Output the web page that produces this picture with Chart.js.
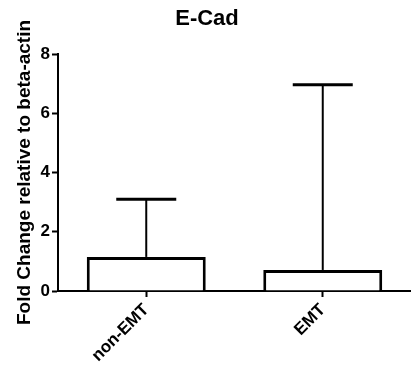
<!DOCTYPE html>
<html>
<head>
<meta charset="utf-8">
<script src="https://cdn.jsdelivr.net/npm/chart.js@4.4.1/dist/chart.umd.min.js"></script>
<style>
  html, body { margin: 0; padding: 0; background: #fff; }
  #wrap { width: 411px; height: 375px; }
</style>
</head>
<body>
<div id="wrap"><canvas id="ecadChart" width="411" height="375"></canvas></div>
<script>
// E-Cad 발현량 (beta-actin 대비 fold change)
const groups = ['non-EMT', 'EMT'];
const meanFold = [1.15, 0.71];
const sdFold = [1.95, 6.25];      // 위쪽 error bar 길이 (SD)
const yTicks = [0, 2, 4, 6, 8];

const FONT = "'Liberation Sans', Arial, sans-serif";

// 막대 위에 한쪽 방향 error bar 그리기
const errorBarPlugin = {
  id: 'errorBars',
  afterDatasetsDraw(chart) {
    const ctx = chart.ctx;
    const yScale = chart.scales.y;
    const meta = chart.getDatasetMeta(0);
    ctx.save();
    ctx.strokeStyle = '#000';
    meta.data.forEach((bar, i) => {
      const top = yScale.getPixelForValue(meanFold[i] + sdFold[i]);
      ctx.lineWidth = 2;
      ctx.beginPath();
      ctx.moveTo(bar.x, bar.y);
      ctx.lineTo(bar.x, top);
      ctx.stroke();
      ctx.lineWidth = 3;
      ctx.beginPath();
      ctx.moveTo(bar.x - 30, top);
      ctx.lineTo(bar.x + 30, top);
      ctx.stroke();
    });
    ctx.restore();
  }
};

new Chart(document.getElementById('ecadChart'), {
  type: 'bar',
  data: {
    labels: groups,
    datasets: [{
      data: meanFold,
      backgroundColor: '#fff',
      borderColor: '#000',
      borderWidth: 3,
      borderSkipped: 'bottom',
      categoryPercentage: 1,
      barPercentage: 0.674
    }]
  },
  options: {
    responsive: false,
    animation: false,
    layout: { padding: { left: 0, right: -3, top: 0, bottom: 0 } },
    plugins: {
      legend: { display: false },
      tooltip: { enabled: false },
      title: {
        display: true,
        text: 'E-Cad',
        color: '#000',
        font: { family: FONT, size: 22, weight: 'bold' },
        padding: { top: 6, bottom: 21.6 }
      }
    },
    scales: {
      x: {
        grid: {
          offset: false,
          drawOnChartArea: false,
          drawTicks: true,
          tickLength: 6,
          tickWidth: 2,
          tickColor: '#000'
        },
        border: { color: '#000', width: 2 },
        ticks: {
          color: '#000',
          font: { family: FONT, size: 17, weight: 'bold' },
          minRotation: 45,
          maxRotation: 45,
          padding: 3
        },
        afterFit(scale) { scale.height = 84; }
      },
      y: {
        min: 0,
        max: 8,
        afterBuildTicks(scale) { scale.ticks = yTicks.map(v => ({ value: v })); },
        grid: {
          drawOnChartArea: false,
          tickLength: 6,
          tickWidth: 2,
          tickColor: '#000'
        },
        border: { color: '#000', width: 2 },
        ticks: {
          color: '#000',
          font: { family: FONT, size: 17, weight: 'bold' },
          padding: 2
        },
        title: {
          display: true,
          text: 'Fold Change relative to beta-actin',
          color: '#000',
          font: { family: FONT, size: 19, weight: 'bold' },
          padding: { top: 13, bottom: 0 }
        },
        afterFit(scale) { scale.width = 58; }
      }
    }
  },
  plugins: [errorBarPlugin]
});
</script>
</body>
</html>
